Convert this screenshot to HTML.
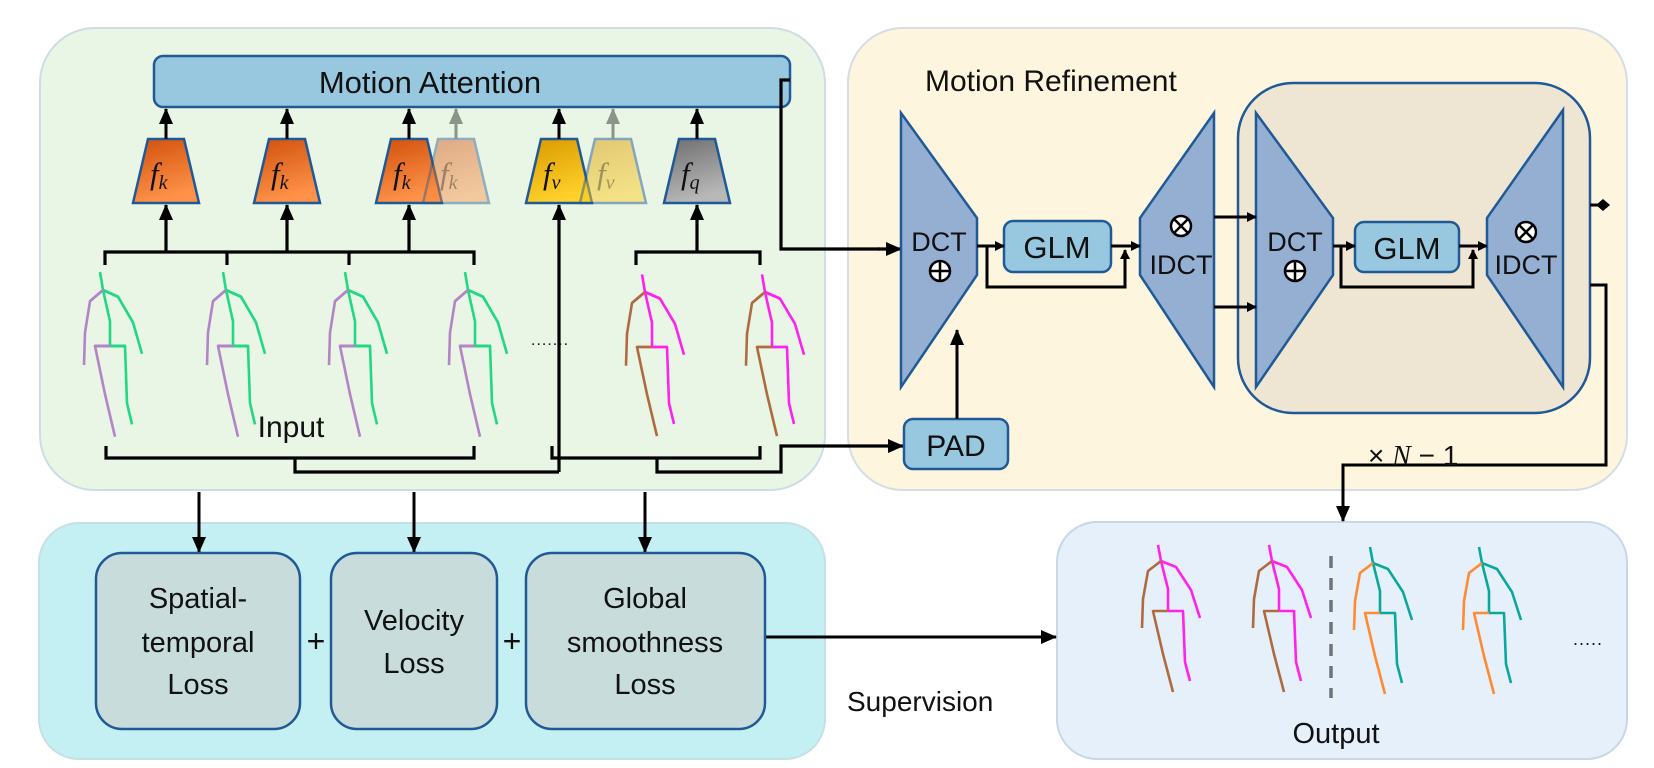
<!DOCTYPE html>
<html><head><meta charset="utf-8"><style>
html,body{margin:0;padding:0;background:#fff;}
svg{display:block;}
text{font-family:"Liberation Sans",sans-serif;fill:#111;}
.m{font-family:"Liberation Serif",serif;font-style:italic;}
</style></head><body>
<svg width="1654" height="768" viewBox="0 0 1654 768" xmlns="http://www.w3.org/2000/svg">
<defs>
<marker id="ar" markerWidth="10" markerHeight="10" refX="9" refY="5" orient="auto" markerUnits="userSpaceOnUse"><path d="M0,0 L10,5 L0,10 z" fill="#000"/></marker>
<marker id="ar2" markerWidth="16" markerHeight="16" refX="15" refY="8" orient="auto" markerUnits="userSpaceOnUse"><path d="M0,1 L16,8 L0,15 z" fill="#000"/></marker>
<marker id="arg" markerWidth="16" markerHeight="16" refX="15" refY="8" orient="auto" markerUnits="userSpaceOnUse"><path d="M0,1 L16,8 L0,15 z" fill="#8a948a"/></marker>
<linearGradient id="go" x1="0" y1="0" x2="0.3" y2="1"><stop offset="0" stop-color="#d0500c"/><stop offset="1" stop-color="#ff9248"/></linearGradient>
<linearGradient id="gy" x1="0" y1="0" x2="0.3" y2="1"><stop offset="0" stop-color="#d99a00"/><stop offset="1" stop-color="#ffd02a"/></linearGradient>
<linearGradient id="gg" x1="0" y1="0" x2="0.3" y2="1"><stop offset="0" stop-color="#6e6e6e"/><stop offset="1" stop-color="#b8b8b8"/></linearGradient>
<symbol id="sk" overflow="visible">
<g fill="none" stroke-width="2.6" stroke-linejoin="round">
<path d="M-3,-16 L0,0 L15,6 L30,29 L39,57 M0,0 L7,28 L7,50 M7,50 L22,50 L24,101 L29,120"/>
<path stroke="currentColor" d="M0,0 L-13,10 L-18,38 L-19,67 M7,50 L-8,50 L2,93 L12,131"/>
</g>
</symbol>
</defs>

<!-- panels -->
<rect x="40" y="28" width="785" height="462" rx="55" fill="#e9f5e5" stroke="#cfdce4" stroke-width="2"/>
<rect x="848" y="28" width="779" height="462" rx="55" fill="#fdf5de" stroke="#d6dde6" stroke-width="2"/>
<rect x="39" y="523" width="786" height="236" rx="40" fill="#c5f0f3" stroke="#c6dfe6" stroke-width="2"/>
<rect x="1057" y="522" width="570" height="237" rx="40" fill="#e5f0fa" stroke="#c8d6e6" stroke-width="2"/>

<!-- Motion Attention -->
<rect x="154" y="56" width="636" height="51" rx="9" fill="#98c8df" stroke="#1f5a96" stroke-width="2.5"/>
<text x="430" y="93" font-size="31" text-anchor="middle">Motion Attention</text>

<!-- trapezoids -->
<g stroke="#1f5a96" stroke-width="2.5">
<path d="M148,139 L184,139 L199,203 L133,203 Z" fill="url(#go)"/>
<path d="M269,139 L305,139 L320,203 L254,203 Z" fill="url(#go)"/>
<path d="M391,139 L427,139 L442,203 L376,203 Z" fill="url(#go)"/>
<path d="M438,139 L474,139 L489,203 L423,203 Z" fill="url(#go)" opacity="0.45"/>
<path d="M541,139 L577,139 L592,203 L526,203 Z" fill="url(#gy)"/>
<path d="M595,139 L631,139 L646,203 L580,203 Z" fill="url(#gy)" opacity="0.5"/>
<path d="M679,139 L715,139 L730,203 L664,203 Z" fill="url(#gg)"/>
</g>
<g font-size="31" class="m">
<text x="150" y="184" class="m">f<tspan font-size="20" dy="5">k</tspan></text>
<text x="271" y="184" class="m">f<tspan font-size="20" dy="5">k</tspan></text>
<text x="393" y="184" class="m">f<tspan font-size="20" dy="5">k</tspan></text>
<text x="440" y="184" class="m" opacity="0.35">f<tspan font-size="20" dy="5">k</tspan></text>
<text x="543" y="184" class="m">f<tspan font-size="20" dy="5">v</tspan></text>
<text x="597" y="184" class="m" opacity="0.35">f<tspan font-size="20" dy="5">v</tspan></text>
<text x="681" y="184" class="m">f<tspan font-size="20" dy="5">q</tspan></text>
</g>

<!-- arrows trap -> attention -->
<g stroke="#000" stroke-width="3" fill="none">
<line x1="166" y1="139" x2="166" y2="109" marker-end="url(#ar2)"/>
<line x1="287" y1="139" x2="287" y2="109" marker-end="url(#ar2)"/>
<line x1="409" y1="139" x2="409" y2="109" marker-end="url(#ar2)"/>
<line x1="559" y1="139" x2="559" y2="109" marker-end="url(#ar2)"/>
<line x1="697" y1="139" x2="697" y2="109" marker-end="url(#ar2)"/>
</g>
<g stroke="#8a948a" stroke-width="3" fill="none">
<line x1="456" y1="139" x2="456" y2="109" marker-end="url(#arg)"/>
<line x1="613" y1="139" x2="613" y2="109" marker-end="url(#arg)"/>
</g>

<!-- brackets top -->
<g stroke="#000" stroke-width="3.2" fill="none">
<path d="M105,265 L105,252 L474,252 L474,265 M227,252 L227,265 M349,252 L349,265"/>
<line x1="166" y1="252" x2="166" y2="205" marker-end="url(#ar2)"/>
<line x1="287" y1="252" x2="287" y2="205" marker-end="url(#ar2)"/>
<line x1="409" y1="252" x2="409" y2="205" marker-end="url(#ar2)"/>
<path d="M636,265 L636,252 L760,252 L760,265"/>
<line x1="697" y1="252" x2="697" y2="205" marker-end="url(#ar2)"/>
<line x1="559" y1="472" x2="559" y2="205" marker-end="url(#ar2)"/>
<path d="M106,446 L106,458 L474,458 L474,446 M295,458 L295,472 L559,472"/>
<path d="M552,446 L552,458 L760,458 L760,446 M657,458 L657,472 L781,472 L781,446 L880,446"/>
<line x1="880" y1="446" x2="903" y2="446" marker-end="url(#ar2)"/>
<path d="M790,80 L781,80 L781,249 L880,249"/>
<line x1="878" y1="249" x2="901" y2="249" marker-end="url(#ar2)"/>
</g>

<!-- input skeletons -->
<g transform="translate(103,290) scale(1.0,1.12)"><use href="#sk" stroke="#22d882" color="#b384c6"/></g>
<g transform="translate(226,290) scale(1.0,1.12)"><use href="#sk" stroke="#22d882" color="#b384c6"/></g>
<g transform="translate(348,290) scale(1.0,1.12)"><use href="#sk" stroke="#22d882" color="#b384c6"/></g>
<g transform="translate(468,290) scale(1.0,1.12)"><use href="#sk" stroke="#22d882" color="#b384c6"/></g>
<g transform="translate(645,292) scale(1.0,1.1)"><use href="#sk" stroke="#ff22ee" color="#b06a40"/></g>
<g transform="translate(765,292) scale(1.0,1.1)"><use href="#sk" stroke="#ff22ee" color="#b06a40"/></g>
<text x="531" y="345" font-size="16" letter-spacing="1">.......</text>
<text x="291" y="437" font-size="30" text-anchor="middle">Input</text>

<!-- refinement -->
<text x="925" y="91" font-size="30">Motion Refinement</text>
<rect x="1238" y="83" width="352" height="330" rx="55" fill="#efe5d3" stroke="#1f5a96" stroke-width="2.5"/>
<g fill="#94afd2" stroke="#1f5a96" stroke-width="2.5">
<path d="M901,113 L977,218 L977,275 L901,387 Z"/>
<path d="M1214,113 L1140,218 L1140,275 L1214,387 Z"/>
<path d="M1256,113 L1333,218 L1333,275 L1256,387 Z"/>
<path d="M1563,110 L1487,218 L1487,275 L1563,387 Z"/>
</g>
<g fill="#98c8df" stroke="#1f5a96" stroke-width="2.5">
<rect x="1004" y="221" width="107" height="51" rx="9"/>
<rect x="1355" y="222" width="104" height="50" rx="9"/>
<rect x="904" y="419" width="104" height="50" rx="9"/>
</g>
<g font-size="27" text-anchor="middle">
<text x="1057" y="258" font-size="31">GLM</text>
<text x="1407" y="259" font-size="31">GLM</text>
<text x="956" y="456" font-size="30">PAD</text>
<text x="939" y="251">DCT</text>
<text x="1295" y="251">DCT</text>
<text x="1181" y="274">IDCT</text>
<text x="1526" y="274">IDCT</text>
</g>
<g fill="#fff" stroke="#000" stroke-width="2.5">
<circle cx="940" cy="271" r="10"/><circle cx="1295" cy="271" r="10"/>
<circle cx="1181" cy="226" r="10"/><circle cx="1526" cy="232" r="10"/>
</g>
<g stroke="#000" stroke-width="2.5">
<path d="M930,271 H950 M940,261 V281 M1285,271 H1305 M1295,261 V281"/>
<path d="M1174,219 L1188,233 M1188,219 L1174,233 M1519,225 L1533,239 M1533,225 L1519,239"/>
</g>
<g stroke="#000" stroke-width="3" fill="none">
<path d="M977,246 L990,246"/><line x1="987" y1="246" x2="1004" y2="246" marker-end="url(#ar)"/>
<path d="M987,246 L987,287 L1125,287 L1125,262"/><line x1="1125" y1="266" x2="1125" y2="250" marker-end="url(#ar)"/>
<line x1="1111" y1="246" x2="1140" y2="246" marker-end="url(#ar)"/>
<line x1="1214" y1="217" x2="1256" y2="217" marker-end="url(#ar)"/>
<line x1="1214" y1="307" x2="1256" y2="307" marker-end="url(#ar)"/>
<line x1="1333" y1="246" x2="1355" y2="246" marker-end="url(#ar)"/>
<path d="M1341,246 L1341,287 L1473,287 L1473,262"/><line x1="1473" y1="266" x2="1473" y2="250" marker-end="url(#ar)"/>
<line x1="1459" y1="246" x2="1487" y2="246" marker-end="url(#ar)"/>
<line x1="957" y1="419" x2="957" y2="330" marker-end="url(#ar2)"/>
<path d="M1590,205 L1598,205"/>
<path d="M1590,285 L1606,285 L1606,465 L1343,465 L1343,500"/>
<line x1="1343" y1="495" x2="1343" y2="521" marker-end="url(#ar2)"/>
</g>
<path d="M1596,205 L1603,199 L1610,205 L1603,211 Z" fill="#000"/>
<text x="1368" y="465" font-size="28">× <tspan class="m">N</tspan> − 1</text>

<!-- losses -->
<g stroke="#000" stroke-width="3" fill="none">
<line x1="199" y1="492" x2="199" y2="552" marker-end="url(#ar2)"/>
<line x1="414" y1="492" x2="414" y2="552" marker-end="url(#ar2)"/>
<line x1="645" y1="492" x2="645" y2="552" marker-end="url(#ar2)"/>
<line x1="765" y1="637" x2="1056" y2="637" marker-end="url(#ar2)"/>
</g>
<g fill="#c8dcdc" stroke="#1f5a96" stroke-width="2.5">
<rect x="96" y="553" width="204" height="176" rx="26"/>
<rect x="331" y="553" width="166" height="176" rx="26"/>
<rect x="526" y="553" width="239" height="176" rx="26"/>
</g>
<g font-size="29" text-anchor="middle">
<text x="198" y="608">Spatial-</text>
<text x="198" y="652">temporal</text>
<text x="198" y="694">Loss</text>
<text x="414" y="630">Velocity</text>
<text x="414" y="673">Loss</text>
<text x="645" y="608">Global</text>
<text x="645" y="652">smoothness</text>
<text x="645" y="694">Loss</text>
<text x="316" y="652" font-size="32">+</text>
<text x="512" y="652" font-size="32">+</text>
</g>
<text x="847" y="711" font-size="28">Supervision</text>

<!-- output -->
<g transform="translate(1161,561)"><use href="#sk" stroke="#ff22ee" color="#b06a40"/></g>
<g transform="translate(1272,561)"><use href="#sk" stroke="#ff22ee" color="#b06a40"/></g>
<g transform="translate(1373,563)"><use href="#sk" stroke="#0aa89c" color="#ff8a30"/></g>
<g transform="translate(1482,563)"><use href="#sk" stroke="#0aa89c" color="#ff8a30"/></g>
<line x1="1331" y1="556" x2="1331" y2="698" stroke="#707478" stroke-width="3.5" stroke-dasharray="12,10"/>
<text x="1573" y="645" font-size="18" letter-spacing="1">.....</text>
<text x="1336" y="743" font-size="29" text-anchor="middle">Output</text>
</svg>
</body></html>
